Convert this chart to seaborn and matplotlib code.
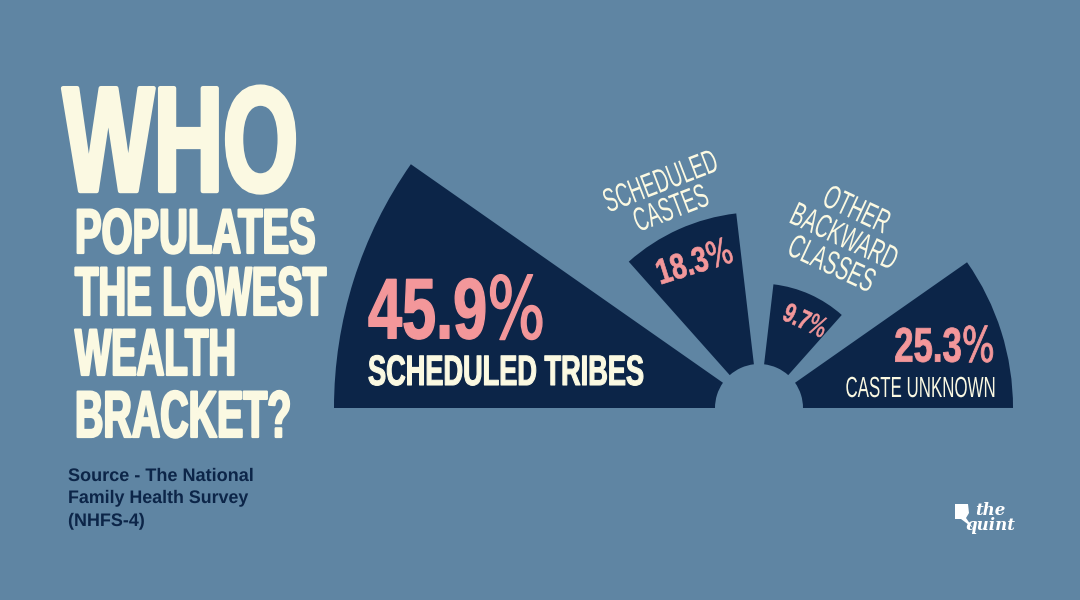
import numpy as np
import pandas as pd
import seaborn as sns
import matplotlib
matplotlib.use('Agg')
import matplotlib.pyplot as plt
from matplotlib.font_manager import FontProperties
from matplotlib.textpath import TextPath
from matplotlib.patheffects import AbstractPathEffect
from matplotlib.transforms import Affine2D
from matplotlib.patches import Polygon

# data
groups = ['SCHEDULED TRIBES', 'SCHEDULED CASTES', 'OTHER BACKWARD CLASSES', 'CASTE UNKNOWN']
shares = [45.9, 18.3, 9.7, 25.3]

title_lines = ['WHO', 'POPULATES', 'THE LOWEST', 'WEALTH', 'BRACKET?']
source_lines = ['Source - The National', 'Family Health Survey', '(NHFS-4)']

BG = '#5f85a3'
NAVY = '#0c2548'
PINK = '#f3979a'
CREAM = '#fbf9e2'

W, H, DPI = 1080, 600, 100
WEDGE, GAP = 35.0, 13.33          # degrees
CX, CY = 759, 408                 # centre of the half disc, pixels
RMAX_PX, HOLE_PX = 425, 44

HEAVY = ['Liberation Sans Narrow', 'Liberation Sans', 'DejaVu Sans']
PT2PX = DPI / 72


class Stretch(AbstractPathEffect):
    """make the glyphs taller from their baseline (a condensed look)"""

    def __init__(self, sy, stroke=0):
        super().__init__()
        self.sy, self.stroke = sy, stroke

    def draw_path(self, renderer, gc, tpath, affine, rgbFace=None):
        tr = Affine2D().scale(1, self.sy) + affine
        gc0 = renderer.new_gc()
        gc0.copy_properties(gc)
        if self.stroke:
            gc0.set_linewidth(self.stroke)
            gc0.set_foreground(rgbFace, isRGBA=True)
        renderer.draw_path(gc0, tpath, tr, rgbFace)
        gc0.restore()


def label(s, x, y, cap, width, color, weight='bold', ha='left', va='baseline', rot=0,
          family=HEAVY, stroke=0, pitch=None):
    # font size from the width, then stretch up to the wanted cap height
    fp = FontProperties(family=family, weight=weight)
    cap_unit = TextPath((0, 0), 'H', size=100, prop=fp).get_extents().height / 100
    lines = s.split('\n')
    w_unit = max(TextPath((0, 0), ln, size=100, prop=fp).get_extents().width for ln in lines) / 100
    fs = (width - stroke) / (w_unit * PT2PX)
    cap_nat = cap_unit * fs * PT2PX
    sy = (cap - stroke) / cap_nat
    fp.set_size(fs)
    kw = {}
    if pitch:
        e = TextPath((0, 0), 'lp', size=fs, prop=fp).get_extents()
        lp_h, lp_d = e.height * PT2PX, -e.y0 * PT2PX
        kw['linespacing'] = (pitch - lp_d) / (lp_h - lp_d)
    if va == 'center':
        shift = (cap - stroke - cap_nat) / 2
        r = np.deg2rad(rot)
        x, y = x + shift * np.sin(r), y + shift * np.cos(r)
    return fig.text(x / W, 1 - y / H, s, fontproperties=fp, color=color, ha=ha, va=va,
                    multialignment='center', rotation=rot, rotation_mode='anchor',
                    path_effects=[Stretch(sy, stroke)], **kw)


sns.set_theme(style='white', rc={'figure.facecolor': BG, 'savefig.facecolor': BG,
                                 'mathtext.fontset': 'custom',
                                 'mathtext.rm': 'Liberation Sans Narrow'})

fig = plt.figure(figsize=(W / DPI, H / DPI), dpi=DPI)
# polar axes keep a square box; the half disc sits in its middle
ax = fig.add_axes([(CX - RMAX_PX) / W, 1 - (CY + RMAX_PX / 2) / H,
                   2 * RMAX_PX / W, 2 * RMAX_PX / H], projection='polar')

theta = np.deg2rad(180 - WEDGE / 2 - np.arange(len(shares)) * (WEDGE + GAP))
df = pd.DataFrame({'group': groups, 'share': shares, 'theta': theta})

sns.barplot(data=df, x='theta', y='share', orient='x', native_scale=True,
            width=WEDGE / (WEDGE + GAP), color=NAVY, saturation=1,
            errorbar=None, linewidth=0, ax=ax)
for p in ax.patches:
    p.set_clip_on(False)

top = max(shares)
ax.set_thetamin(0)
ax.set_thetamax(180)
ax.set_ylim(0, top)
ax.set_rorigin(-HOLE_PX * top / (RMAX_PX - HOLE_PX))
ax.set_axis_off()

# title block
title_pos = [(63, 191, 106, 234, 3.2), (75, 253, 45, 238, 1.6), (75, 315, 49, 252, 1.6),
             (75, 375, 47, 160, 1.6), (75, 437, 47, 213, 1.6)]
for s, (x, y, cap, w, st) in zip(title_lines, title_pos):
    label(s, x, y, cap, w, CREAM, stroke=st)

# value labels: bold number with a thin per cent sign
val = {g: f'{v:.1f}' + r'$\mathrm{\%}$' for g, v in zip(groups, shares)}

label(val['SCHEDULED TRIBES'], 368, 339, 60, 174, PINK, stroke=1.0)
label('SCHEDULED TRIBES', 368, 385, 30, 275, CREAM, stroke=0.8)

label(val['CASTE UNKNOWN'], 995, 362, 34, 98, PINK, ha='right', stroke=0.6)
label('CASTE UNKNOWN', 995, 397, 20, 148, CREAM, weight='normal', ha='right')

label(val['SCHEDULED CASTES'], 698, 273, 25, 76, PINK, ha='center', rot=17.5, stroke=0.5)
label(val['OTHER BACKWARD CLASSES'], 802, 329, 19, 44, PINK, ha='center', rot=-25, stroke=0.4)

# category names above the small wedges
label('SCHEDULED\nCASTES', 666, 196, 23, 118, CREAM, weight='normal', ha='center',
      va='center', rot=21, pitch=31)
label('OTHER\nBACKWARD\nCLASSES', 844, 237, 23, 112, CREAM, weight='normal', ha='center',
      va='center', rot=-25, pitch=29)

# source note
for s, y, w in zip(source_lines, [481, 503, 526], [184, 179, 75]):
    label(s, 68, y, 12.5, w, NAVY, family=['Liberation Sans', 'DejaVu Sans'])

# logo
bubble = [(955, 504), (968, 504), (969, 513), (966, 518), (973, 528), (961, 519), (955, 519)]
fig.add_artist(Polygon([(x / W, 1 - y / H) for x, y in bubble], closed=True,
                       transform=fig.transFigure, facecolor='white', edgecolor='none'))
fig.text(990 / W, 1 - 518 / H, 'the\nquint', color='white', fontsize=12, ha='center',
         va='center', multialignment='center', linespacing=0.8,
         family='DejaVu Serif', style='italic', weight='bold')

fig.savefig('out.png', dpi=DPI)
